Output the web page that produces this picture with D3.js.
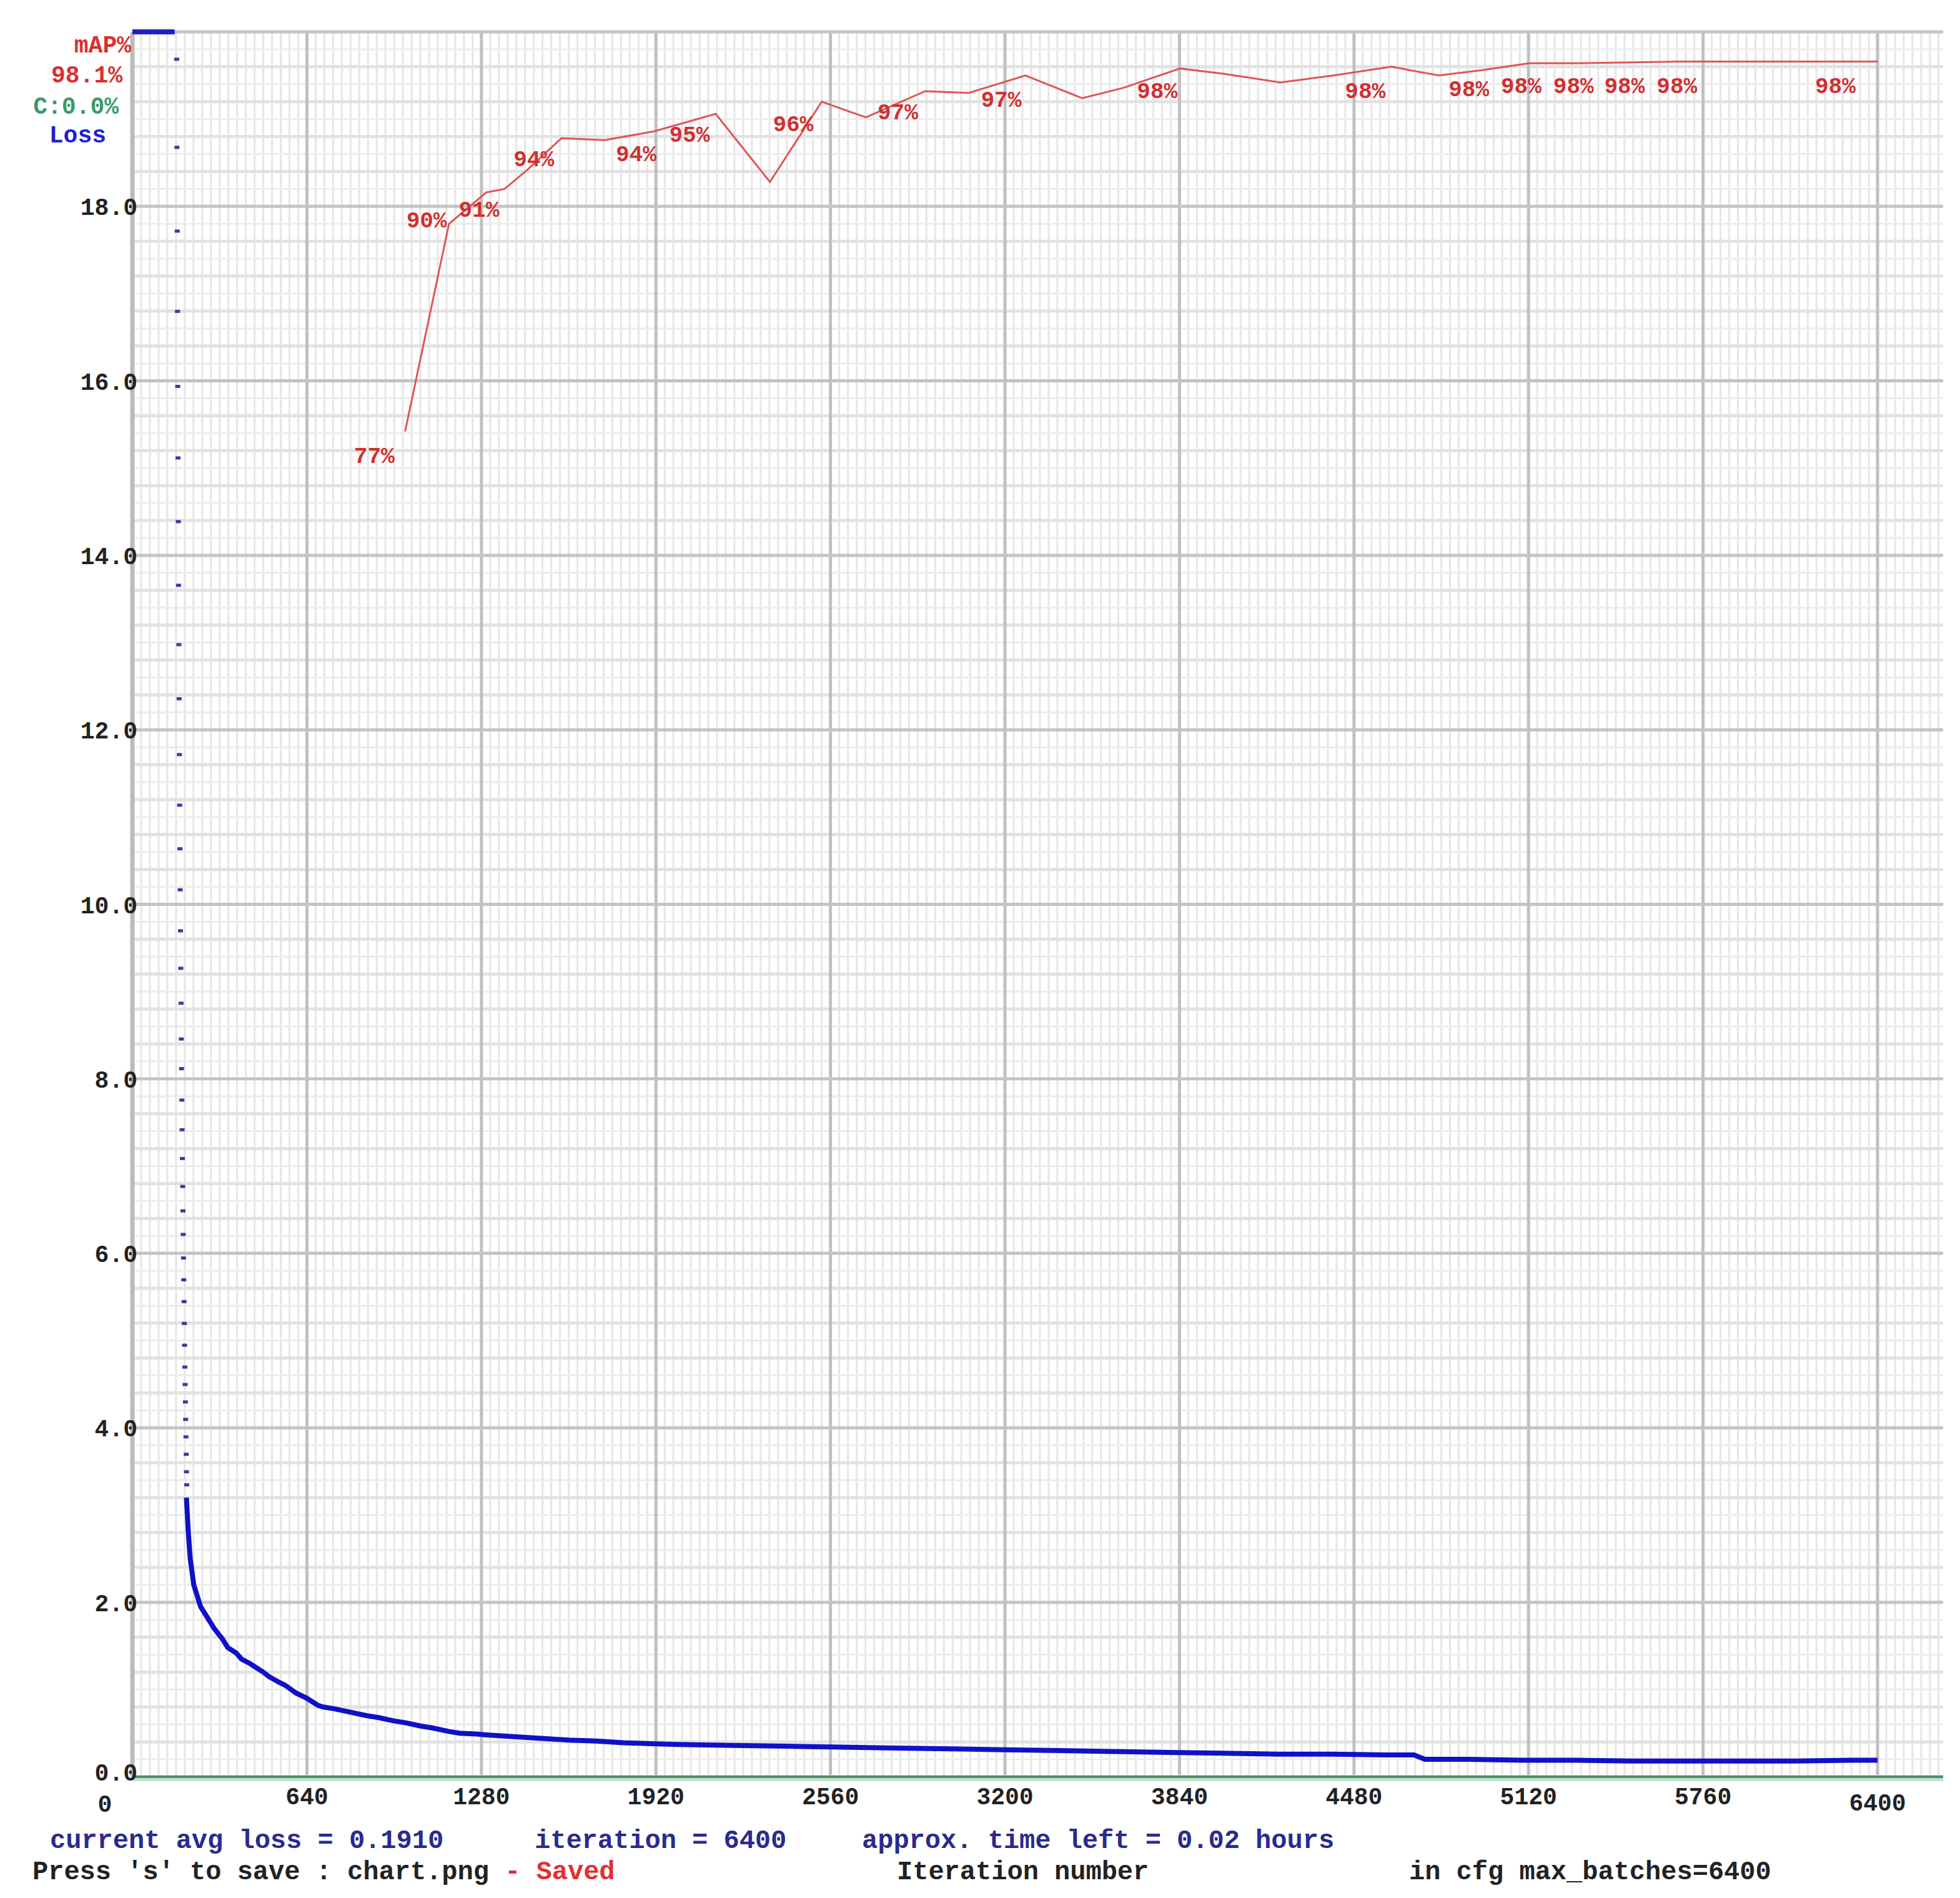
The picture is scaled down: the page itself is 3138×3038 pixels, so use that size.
<!DOCTYPE html>
<html><head><meta charset="utf-8">
<script src="https://cdn.jsdelivr.net/npm/d3@7"></script>
<style>body{margin:0;background:#fff}</style></head>
<body><svg id="c" width="3138" height="3038"></svg>
<script>
const yTicks=[0,2,4,6,8,10,12,14,16,18];
const xTicks=[0,640,1280,1920,2560,3200,3840,4480,5120,5760,6400];
const lossClipped=[[0,20],[155,20]];
const lossDots=[[160,19.69],[161,18.68],[162,17.72],[163,16.80],[164,15.94],[165,15.12],[166,14.39],[167,13.66],[168,12.98],[169,12.36],[170,11.72],[171,11.14],[172,10.64],[173,10.17],[174,9.70],[175,9.27],[176,8.87],[177,8.46],[178,8.12],[179,7.76],[180,7.42],[181,7.09],[182,6.77],[183,6.49],[184,6.22],[185,5.95],[186,5.7],[187,5.45],[188,5.2],[189,4.95],[190,4.7],[191,4.5],[192,4.3],[193,4.1],[194,3.9],[195,3.7],[196,3.5],[197,3.35]];
const lossCurve=[[198,3.2],[205,2.8],[212,2.5],[225,2.2],[250,1.95],[280,1.8],[300,1.7],[330,1.58],[350,1.48],[380,1.42],[400,1.35],[430,1.3],[450,1.26],[480,1.2],[500,1.15],[540,1.08],[560,1.05],[600,0.96],[640,0.9],[680,0.82],[700,0.8],[740,0.78],[800,0.74],[860,0.7],[900,0.68],[960,0.64],[1000,0.62],[1060,0.58],[1100,0.56],[1160,0.52],[1200,0.5],[1260,0.49],[1300,0.48],[1400,0.46],[1500,0.44],[1600,0.42],[1700,0.41],[1800,0.39],[1900,0.38],[2000,0.37],[2200,0.36],[2400,0.35],[2600,0.34],[2800,0.33],[3000,0.32],[3200,0.31],[3400,0.3],[3600,0.29],[3800,0.28],[4000,0.27],[4200,0.26],[4400,0.26],[4600,0.25],[4700,0.25],[4740,0.2],[4900,0.2],[5100,0.19],[5300,0.19],[5500,0.18],[5700,0.18],[5900,0.18],[6100,0.18],[6300,0.19],[6400,0.19]];
const mapIter=[1000,1161,1298,1365,1449,1573,1733,1913,2139,2338,2528,2690,2907,3067,3275,3483,3636,3842,4000,4210,4405,4617,4791,4946,5122,5296,5682,6050,6400];
const mapVal=[77.1,89.0,90.8,91.0,92.1,93.9,93.8,94.3,95.3,91.4,96.0,95.1,96.6,96.5,97.5,96.2,96.8,97.9,97.6,97.1,97.5,98.0,97.5,97.8,98.2,98.2,98.3,98.3,98.3];
const labelText=["77%","90%","91%","94%","94%","95%","96%","97%","97%","98%","98%","98%","98%","98%","98%","98%","98%"];
const labelIter=[887,1079,1271,1472,1847,2043,2423,2807,3186,3758,4521,4901,5093,5285,5472,5664,6245];
const labelVal=[75.8,89.3,89.9,92.8,93.1,94.2,94.8,95.5,96.2,96.7,96.7,96.8,97.0,97.0,97.0,97.0,97.0];

const svg=d3.select('#c');
const L=212,T=51,B=2844,R=3111;
const x=d3.scaleLinear().domain([0,6400]).range([L,3006]);
const y=d3.scaleLinear().domain([0,20]).range([B,T]);
const ym=d3.scaleLinear().domain([0,100]).range([B,T]);
const xMax=x.invert(R);
const g=svg.append('g');
for(let i=0;i<=Math.floor(xMax/32);i++){const v=i*32;if(v%640===0)continue;
 g.append('line').attr('x1',x(v)).attr('x2',x(v)).attr('y1',T).attr('y2',B).attr('stroke','#e6e6e6').attr('stroke-width',3);}
for(let i=1;i<100;i++){const v=i*0.2;if(i%10===0)continue;
 g.append('line').attr('x1',L).attr('x2',R).attr('y1',y(v)).attr('y2',y(v)).attr('stroke',i%2?'#ececec':'#e2e2e2').attr('stroke-width',i%2?3:5);}
xTicks.forEach(v=>g.append('line').attr('x1',x(v)).attr('x2',x(v)).attr('y1',T).attr('y2',B).attr('stroke','#c0c0c0').attr('stroke-width',5));
yTicks.concat([20]).forEach(v=>g.append('line').attr('x1',L).attr('x2',R).attr('y1',y(v)).attr('y2',y(v)).attr('stroke','#c4c4c4').attr('stroke-width',5));
g.append('line').attr('x1',L).attr('x2',L).attr('y1',T).attr('y2',B).attr('stroke','#bbb').attr('stroke-width',7);
g.append('line').attr('x1',L).attr('x2',R).attr('y1',B+2).attr('y2',B+2).attr('stroke','#bfe3cf').attr('stroke-width',10);
g.append('line').attr('x1',L).attr('x2',R).attr('y1',B).attr('y2',B).attr('stroke','#4f8f68').attr('stroke-width',4);

const font="'Liberation Mono', monospace";
yTicks.forEach(v=>svg.append('text').attr('x',L+8).attr('y',y(v)+(v===0?6:14)).attr('text-anchor','end').attr('font-family',font).attr('font-weight','bold').attr('font-size',38).attr('fill','#222').text(v.toFixed(1)));
xTicks.forEach(v=>svg.append('text').attr('x',v===0?168:x(v)).attr('y',v===6400?2898:(v===0?2900:2888)).attr('text-anchor','middle').attr('font-family',font).attr('font-weight','bold').attr('font-size',38).attr('fill','#222').text(v));

const line=d3.line().x(d=>x(d[0])).y(d=>y(d[1]));
svg.append('path').attr('d',line(lossClipped)).attr('stroke','#2020c0').attr('stroke-width',8).attr('fill','none');
svg.selectAll('.dot').data(lossDots).join('rect').attr('x',d=>x(d[0])-3).attr('y',d=>y(d[1])-2).attr('width',8).attr('height',5).attr('fill','#3a3aa0');
svg.append('path').attr('d',line(lossCurve)).attr('stroke','#1010c8').attr('stroke-width',8).attr('fill','none');

const mline=d3.line().x((d,i)=>x(mapIter[i])).y((d,i)=>ym(mapVal[i]));
svg.append('path').attr('d',mline(mapVal)).attr('stroke','#e05555').attr('stroke-width',3).attr('fill','none');
labelText.forEach((t,i)=>svg.append('text').attr('x',x(labelIter[i])).attr('y',ym(labelVal[i])+14).attr('text-anchor','middle').attr('font-family',font).attr('font-weight','bold').attr('font-size',36).attr('fill','#d03030').text(t));

const leg=[["mAP%","#d83030",84,210],["98.1%","#d83030",132,196],["C:0.0%","#3a9a6a",182,190],["Loss","#2020d0",228,170]];
leg.forEach(l=>svg.append('text').attr('x',l[3]).attr('y',l[2]).attr('text-anchor','end').attr('font-family',font).attr('font-weight','bold').attr('font-size',38).attr('fill',l[1]).text(l[0]));

const bt=(tx,xx,yy,c)=>svg.append('text').attr('x',xx).attr('y',yy).attr('font-family',font).attr('font-weight','bold').attr('font-size',42).attr('fill',c).attr('xml:space','preserve').text(tx);
bt("current avg loss = 0.1910",80,2958,'#2a2a90');
bt("iteration = 6400",856,2958,'#2a2a90');
bt("approx. time left = 0.02 hours",1380,2958,'#2a2a90');
const t2=svg.append('text').attr('x',52).attr('y',3008).attr('font-family',font).attr('font-weight','bold').attr('font-size',42).attr('xml:space','preserve');
t2.append('tspan').attr('fill','#222').text("Press 's' to save : chart.png ");
t2.append('tspan').attr('fill','#e03030').text("- Saved");
bt("Iteration number",1436,3008,'#222');
bt("in cfg max_batches=6400",2256,3008,'#222');
</script></body></html>
